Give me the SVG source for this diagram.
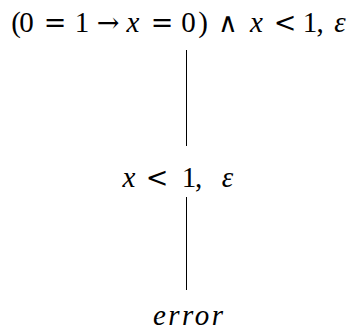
<svg xmlns="http://www.w3.org/2000/svg" width="357" height="332" viewBox="0 0 357 332">
<style>
.t{font-family:"Liberation Serif","DejaVu Serif",serif;font-size:29px;fill:#000}
.i{font-style:italic}
.op{font-family:"DejaVu Serif",serif;font-size:27px}
.e{stroke:#000;stroke-width:1;fill:none}
</style>
<rect width="357" height="332" fill="#fff"/>
<g id="connectors">
<line class="e" x1="186.5" y1="50" x2="186.5" y2="146"/>
<line class="e" x1="186.5" y1="197" x2="186.5" y2="290"/>
</g>
<g id="n1"><text class="t" y="32" text-anchor="middle"><tspan x="16">(</tspan><tspan x="26.5">0</tspan><tspan x="55" class="op">=</tspan><tspan x="82">1</tspan><tspan x="108" class="op" font-size="31">→</tspan><tspan x="133" class="i">x</tspan><tspan x="162" class="op">=</tspan><tspan x="188.5">0</tspan><tspan x="203">)</tspan><tspan x="228" class="op" font-size="36" font-weight="normal">∧</tspan><tspan x="256.5" class="i">x</tspan><tspan x="285" class="op">&lt;</tspan><tspan x="310">1</tspan><tspan x="320">,</tspan><tspan x="340" class="i">ε</tspan></text></g>
<g id="n2"><text class="t" y="187" text-anchor="middle"><tspan x="129" class="i">x</tspan><tspan x="157" class="op">&lt;</tspan><tspan x="189">1</tspan><tspan x="198.5">,</tspan><tspan x="227.5" class="i">ε</tspan></text></g>
<g id="n3"><text class="t i" x="153" y="325" textLength="70" lengthAdjust="spacing">error</text></g>
</svg>
